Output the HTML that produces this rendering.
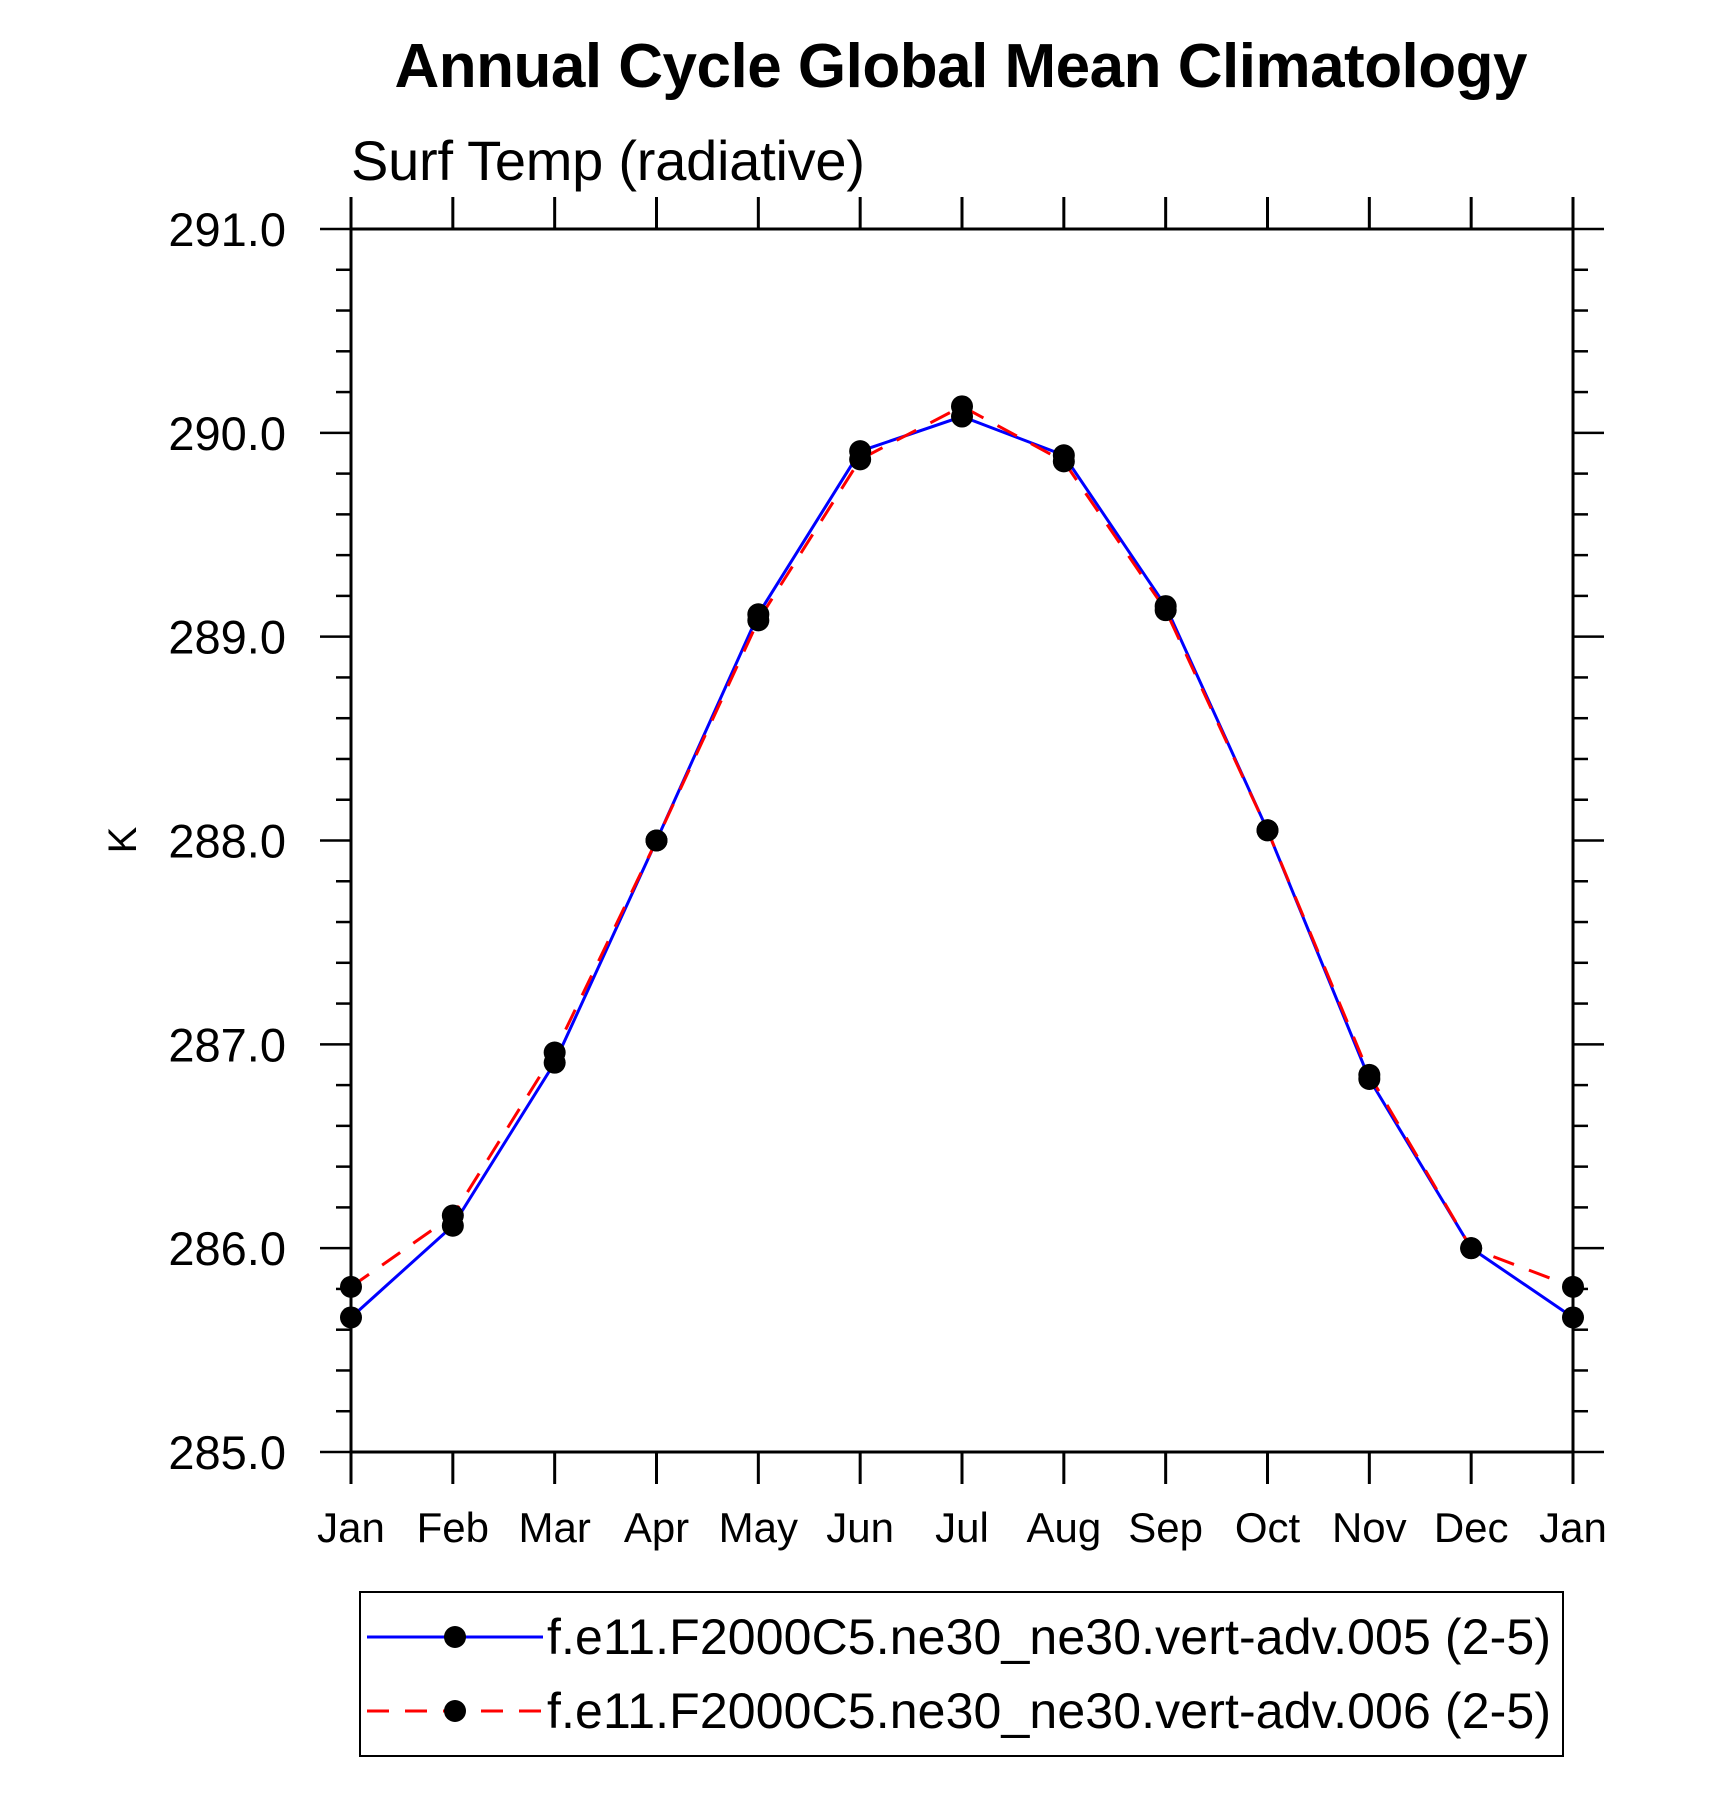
<!DOCTYPE html>
<html><head><meta charset="utf-8"><style>
html,body{margin:0;padding:0;background:#fff;}
svg{display:block;font-family:"Liberation Sans",Arial,sans-serif;}
</style></head><body>
<svg id="chart" width="1710" height="1797" viewBox="0 0 1710 1797" xmlns="http://www.w3.org/2000/svg">
<rect width="1710" height="1797" fill="#fff"/>
<text x="961" y="87" text-anchor="middle" font-size="62" font-weight="bold" textLength="1133">Annual Cycle Global Mean Climatology</text>
<text x="351" y="180" font-size="56" textLength="514">Surf Temp (radiative)</text>
<text transform="translate(136,840) rotate(-90)" text-anchor="middle" font-size="40">K</text>
<g id="axes"></g>
<g id="series"></g>
<rect x="360" y="1592" width="1203" height="164" fill="none" stroke="#000" stroke-width="2"/>
<g>
<line x1="367" y1="1637" x2="543" y2="1637" stroke="#0000ff" stroke-width="3"/>
<circle cx="455" cy="1637" r="11" fill="#000"/>
<text x="547" y="1654" font-size="50" textLength="1004">f.e11.F2000C5.ne30_ne30.vert-adv.005 (2-5)</text>
</g>
<g>
<line x1="367" y1="1711" x2="543" y2="1711" stroke="#ff0000" stroke-width="3" stroke-dasharray="22,16"/>
<circle cx="455" cy="1711" r="11" fill="#000"/>
<text x="547" y="1728" font-size="50" textLength="1004">f.e11.F2000C5.ne30_ne30.vert-adv.006 (2-5)</text>
</g>
</svg>
<script>
const months = ["Jan","Feb","Mar","Apr","May","Jun","Jul","Aug","Sep","Oct","Nov","Dec","Jan"];
const series005 = [285.66,286.11,286.91,288.00,289.11,289.91,290.08,289.89,289.15,288.05,286.83,286.00,285.66];
const series006 = [285.81,286.16,286.96,288.00,289.08,289.87,290.13,289.86,289.13,288.05,286.85,286.00,285.81];
const yTicks = [285,286,287,288,289,290,291];
const yTickLabels = ["285.0","286.0","287.0","288.0","289.0","290.0","291.0"];

const NS = "http://www.w3.org/2000/svg";
const X0 = 351, X1 = 1573, Y0 = 1452, Y1 = 229, YMIN = 285, YMAX = 291;
function xs(i){ return X0 + (X1 - X0) * i / (months.length - 1); }
function ys(v){ return Y0 - (Y0 - Y1) * (v - YMIN) / (YMAX - YMIN); }
function mk(tag, attrs, parent){
  const e = document.createElementNS(NS, tag);
  for (const k in attrs) e.setAttribute(k, attrs[k]);
  parent.appendChild(e);
  return e;
}
const axes = document.getElementById('axes');
const frame = mk('rect', {x:X0, y:Y1, width:X1-X0, height:Y0-Y1, fill:'none', stroke:'#000', 'stroke-width':3}, axes);


months.forEach((m, i) => {
  const x = xs(i);
  const tb = mk('line', {x1:x, y1:Y0, x2:x, y2:Y0+32, stroke:'#000', 'stroke-width':3}, axes);
  
  
  const tt = mk('line', {x1:x, y1:Y1, x2:x, y2:Y1-32, stroke:'#000', 'stroke-width':3}, axes);
  
  
  const t = mk('text', {x:x, y:1542, 'text-anchor':'middle', 'font-size':42}, axes);
  t.textContent = m;
  
  
});
for (let k = 0; k <= 30; k++) {
  const v = YMIN + k * 0.2;
  const y = ys(v);
  const major = k % 5 === 0;
  const len = major ? 31 : 15;
  const l = mk('line', {x1:X0-len, y1:y, x2:X0, y2:y, stroke:'#000', 'stroke-width':2.5}, axes);
  
  
  const r = mk('line', {x1:X1, y1:y, x2:X1+len, y2:y, stroke:'#000', 'stroke-width':2.5}, axes);
  
  
}
yTicks.forEach((v, i) => {
  const t = mk('text', {x:286, y:ys(v)+17, 'text-anchor':'end', 'font-size':47}, axes);
  t.textContent = yTickLabels[i];
  
  
});
const sg = document.getElementById('series');
function drawSeries(vals, color, dash, name){
  const pts = vals.map((v, i) => xs(i) + ',' + ys(v)).join(' ');
  const pl = mk('polyline', {points:pts, fill:'none', stroke:color, 'stroke-width':3}, sg);
  if (dash) pl.setAttribute('stroke-dasharray', dash);
  
  
}
function drawMarkers(vals, name){
  vals.forEach((v, i) => {
    const c = mk('circle', {cx:xs(i), cy:ys(v), r:11, fill:'#000'}, sg);
    
    
  });
}
drawSeries(series005, '#0000ff', null, 'series-005');
drawSeries(series006, '#ff0000', '22,16', 'series-006');
drawMarkers(series005, 'series-005');
drawMarkers(series006, 'series-006');
</script>
</body></html>
